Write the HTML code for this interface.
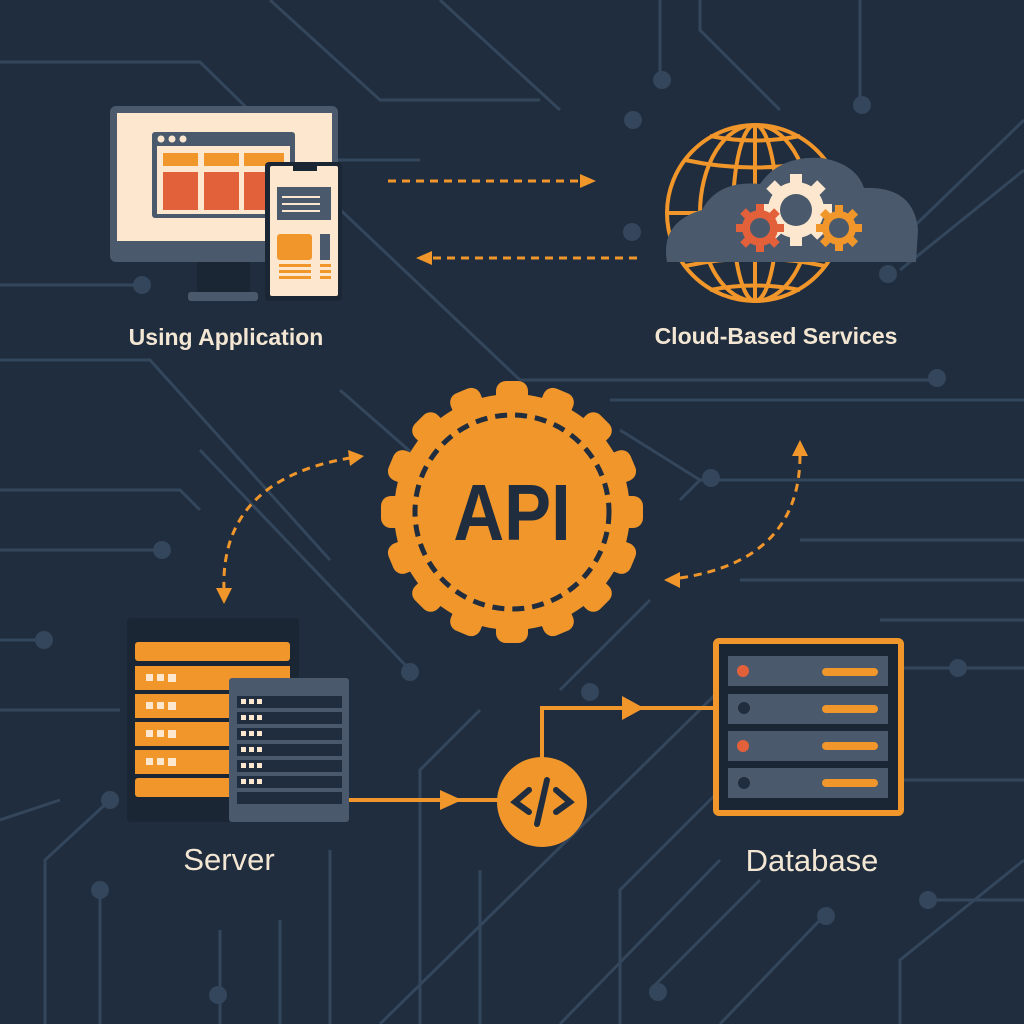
<!DOCTYPE html>
<html><head><style>
html,body{margin:0;padding:0;background:#1f2d3f;}
svg{display:block}
text{font-family:"Liberation Sans","DejaVu Sans",sans-serif;}
</style></head><body>
<svg width="1024" height="1024" viewBox="0 0 1024 1024" xmlns="http://www.w3.org/2000/svg">
<rect width="1024" height="1024" fill="#1f2d3f"/>
<g stroke="#34465b" stroke-width="3" fill="none">
<path d="M0 62 H200 L300 160 H420"/>
<path d="M0 285 H140"/>
<path d="M270 0 L380 100 H540"/>
<path d="M440 0 L560 110"/>
<path d="M660 0 V80"/>
<path d="M700 0 V30 L780 110"/>
<path d="M860 0 V105"/>
<path d="M1024 120 L900 240 H850"/>
<path d="M1024 170 L900 270"/>
<path d="M330 200 L520 380 H935"/>
<path d="M340 390 L420 460"/>
<path d="M0 360 H150 L330 560"/>
<path d="M0 490 H180 L200 510"/>
<path d="M0 550 H160"/>
<path d="M200 450 L410 670"/>
<path d="M610 400 H1024"/>
<path d="M620 430 L700 480 H1024"/>
<path d="M680 500 L700 480"/>
<path d="M800 540 H1024"/>
<path d="M740 580 H1024"/>
<path d="M880 620 L1024 620"/>
<path d="M900 668 H1024"/>
<path d="M900 780 H1024"/>
<path d="M0 640 H40"/>
<path d="M0 710 H120"/>
<path d="M0 820 L60 800"/>
<path d="M45 1024 V860 L110 800"/>
<path d="M100 1024 V890"/>
<path d="M220 1024 V930"/>
<path d="M280 1024 V920"/>
<path d="M330 1024 V850"/>
<path d="M420 1024 V770 L480 710"/>
<path d="M560 690 L650 600"/>
<path d="M380 1024 L720 690"/>
<path d="M560 1024 L720 860"/>
<path d="M620 1024 V890 L720 790"/>
<path d="M650 990 L760 880"/>
<path d="M720 1024 L820 920"/>
<path d="M900 1024 V960 L1024 860"/>
<path d="M930 900 H1024"/>
<path d="M480 1024 V870"/>
</g>
<g fill="#34465b">
<circle cx="142" cy="285" r="9"/><circle cx="633" cy="120" r="9"/><circle cx="662" cy="80" r="9"/><circle cx="862" cy="105" r="9"/>
<circle cx="937" cy="378" r="9"/><circle cx="632" cy="232" r="9"/><circle cx="888" cy="274" r="9"/><circle cx="711" cy="478" r="9"/>
<circle cx="162" cy="550" r="9"/><circle cx="410" cy="672" r="9"/><circle cx="590" cy="692" r="9"/><circle cx="44" cy="640" r="9"/>
<circle cx="110" cy="800" r="9"/><circle cx="100" cy="890" r="9"/><circle cx="958" cy="668" r="9"/><circle cx="928" cy="900" r="9"/>
<circle cx="658" cy="992" r="9"/><circle cx="826" cy="916" r="9"/><circle cx="218" cy="995" r="9"/>
</g>

<!-- Monitor -->
<rect x="110" y="106" width="228" height="156" rx="6" fill="#4a5a6c"/>
<rect x="117" y="113" width="215" height="128" fill="#fde8cf"/>
<rect x="197" y="262" width="53" height="30" fill="#1a2634"/>
<rect x="188" y="292" width="70" height="9" rx="3" fill="#4a5a6c"/>
<rect x="152" y="132" width="143" height="86" rx="3" fill="#4a5a6c"/>
<rect x="157" y="146" width="133" height="68" fill="#fde8cf"/>
<g fill="#fde8cf"><circle cx="161" cy="139" r="3.5"/><circle cx="172" cy="139" r="3.5"/><circle cx="183" cy="139" r="3.5"/></g>
<g fill="#f0962a"><rect x="163" y="153" width="35" height="13"/><rect x="204" y="153" width="35" height="13"/><rect x="244" y="153" width="40" height="13"/></g>
<g fill="#e2603a"><rect x="163" y="172" width="35" height="38"/><rect x="204" y="172" width="35" height="38"/><rect x="244" y="172" width="40" height="38"/></g>
<!-- Phone -->
<rect x="265" y="162" width="77" height="139" rx="4" fill="#1a2634"/>
<rect x="270" y="166" width="68" height="130" rx="2" fill="#fde8cf"/>
<rect x="293" y="166" width="24" height="5" fill="#1a2634"/>
<rect x="277" y="187" width="54" height="33" fill="#4a5a6c"/>
<g stroke="#fde8cf" stroke-width="2"><line x1="282" y1="197" x2="320" y2="197"/><line x1="282" y1="204" x2="320" y2="204"/><line x1="282" y1="211" x2="320" y2="211"/></g>
<rect x="277" y="234" width="35" height="26" rx="3" fill="#f0962a"/>
<rect x="320" y="234" width="10" height="26" fill="#4a5a6c"/>
<g fill="#f0962a"><rect x="279" y="264" width="32" height="3"/><rect x="279" y="270" width="32" height="3"/><rect x="279" y="276" width="32" height="3"/><rect x="320" y="264" width="11" height="3"/><rect x="320" y="270" width="11" height="3"/><rect x="320" y="276" width="11" height="3"/></g>
<text x="226" y="345" text-anchor="middle" font-size="23" font-weight="bold" fill="#f3e6d3">Using Application</text>

<!-- Globe & cloud -->
<g stroke="#f0962a" stroke-width="4" fill="none">
<circle cx="755" cy="213" r="88"/>
<ellipse cx="755" cy="213" rx="55" ry="88"/>
<ellipse cx="755" cy="213" rx="22" ry="88"/>
<line x1="755" y1="125" x2="755" y2="301"/>
<line x1="667" y1="213" x2="843" y2="213"/>
<path d="M685 160 Q755 175 825 160"/><path d="M685 266 Q755 251 825 266"/>
<path d="M710 136 Q755 145 800 136"/><path d="M710 290 Q755 281 800 290"/>
</g>
<path d="M667 262 Q660 222 702 210 Q718 180 760 184 Q780 155 822 158 Q856 164 864 188 Q914 186 918 230 L916 262 Z" fill="#4a5a6c"/>
<g transform="translate(796,210)" fill="#fde8cf">
<circle r="28"/>
<g><rect x="-6" y="-36" width="12" height="72"/><rect x="-6" y="-36" width="12" height="72" transform="rotate(45)"/><rect x="-6" y="-36" width="12" height="72" transform="rotate(90)"/><rect x="-6" y="-36" width="12" height="72" transform="rotate(135)"/></g>
<circle r="16" fill="#4a5a6c"/>
</g>
<g transform="translate(760,228)" fill="#e2603a">
<circle r="18"/>
<rect x="-4" y="-24" width="8" height="48"/><rect x="-4" y="-24" width="8" height="48" transform="rotate(45)"/><rect x="-4" y="-24" width="8" height="48" transform="rotate(90)"/><rect x="-4" y="-24" width="8" height="48" transform="rotate(135)"/>
<circle r="10" fill="#4a5a6c"/>
</g>
<g transform="translate(839,228)" fill="#f0962a">
<circle r="17"/>
<rect x="-4" y="-23" width="8" height="46"/><rect x="-4" y="-23" width="8" height="46" transform="rotate(45)"/><rect x="-4" y="-23" width="8" height="46" transform="rotate(90)"/><rect x="-4" y="-23" width="8" height="46" transform="rotate(135)"/>
<circle r="10" fill="#4a5a6c"/>
</g>
<text x="776" y="344" text-anchor="middle" font-size="23" font-weight="bold" fill="#f3e6d3">Cloud-Based Services</text>

<!-- dashed arrows -->
<g stroke="#f0962a" stroke-width="3" stroke-dasharray="8 6" fill="none">
<line x1="388" y1="181" x2="582" y2="181"/>
<line x1="637" y1="258" x2="432" y2="258"/>
<path d="M224 590 Q220 480 350 458"/>
<path d="M680 578 Q800 560 800 455"/>
</g>
<g fill="#f0962a">
<polygon points="596,181 580,174 580,188"/>
<polygon points="416,258 432,251 432,265"/>
<polygon points="364,456 348,450 350,466"/>
<polygon points="224,604 216,588 232,588"/>
<polygon points="800,440 792,456 808,456"/>
<polygon points="664,580 680,572 680,588"/>
</g>

<!-- API gear -->
<g transform="translate(512,512)" fill="#f0962a">
<circle r="118"/>
<rect x="-16" y="-131" width="32" height="40" rx="10"/>
<rect x="-16" y="-131" width="32" height="40" rx="10" transform="rotate(22.5)"/>
<rect x="-16" y="-131" width="32" height="40" rx="10" transform="rotate(45)"/>
<rect x="-16" y="-131" width="32" height="40" rx="10" transform="rotate(67.5)"/>
<rect x="-16" y="-131" width="32" height="40" rx="10" transform="rotate(90)"/>
<rect x="-16" y="-131" width="32" height="40" rx="10" transform="rotate(112.5)"/>
<rect x="-16" y="-131" width="32" height="40" rx="10" transform="rotate(135)"/>
<rect x="-16" y="-131" width="32" height="40" rx="10" transform="rotate(157.5)"/>
<rect x="-16" y="-131" width="32" height="40" rx="10" transform="rotate(180)"/>
<rect x="-16" y="-131" width="32" height="40" rx="10" transform="rotate(202.5)"/>
<rect x="-16" y="-131" width="32" height="40" rx="10" transform="rotate(225)"/>
<rect x="-16" y="-131" width="32" height="40" rx="10" transform="rotate(247.5)"/>
<rect x="-16" y="-131" width="32" height="40" rx="10" transform="rotate(270)"/>
<rect x="-16" y="-131" width="32" height="40" rx="10" transform="rotate(292.5)"/>
<rect x="-16" y="-131" width="32" height="40" rx="10" transform="rotate(315)"/>
<rect x="-16" y="-131" width="32" height="40" rx="10" transform="rotate(337.5)"/>
<circle r="97" fill="none" stroke="#1f2d3f" stroke-width="5" stroke-dasharray="12 8"/>
</g>
<text x="0" y="0" transform="translate(512,540) scale(0.88,1)" text-anchor="middle" font-size="80" font-weight="bold" fill="#1f2d3f">API</text>

<!-- Server -->
<rect x="127" y="618" width="172" height="204" rx="4" fill="#1a2634"/>
<g fill="#f0962a">
<rect x="135" y="642" width="155" height="19" rx="3"/>
<rect x="135" y="666" width="155" height="24"/>
<rect x="135" y="694" width="155" height="24"/>
<rect x="135" y="722" width="155" height="24"/>
<rect x="135" y="750" width="155" height="24"/>
<rect x="135" y="778" width="155" height="19" rx="3"/>
</g>
<g fill="#fde8cf">
<rect x="146" y="674" width="7" height="7"/><rect x="157" y="674" width="7" height="7"/><rect x="168" y="674" width="8" height="8"/>
<rect x="146" y="702" width="7" height="7"/><rect x="157" y="702" width="7" height="7"/><rect x="168" y="702" width="8" height="8"/>
<rect x="146" y="730" width="7" height="7"/><rect x="157" y="730" width="7" height="7"/><rect x="168" y="730" width="8" height="8"/>
<rect x="146" y="758" width="7" height="7"/><rect x="157" y="758" width="7" height="7"/><rect x="168" y="758" width="8" height="8"/>
</g>
<rect x="229" y="678" width="120" height="144" rx="3" fill="#4a5a6c"/>
<g fill="#1f2d3f">
<rect x="237" y="696" width="105" height="12"/><rect x="237" y="712" width="105" height="12"/><rect x="237" y="728" width="105" height="12"/>
<rect x="237" y="744" width="105" height="12"/><rect x="237" y="760" width="105" height="12"/><rect x="237" y="776" width="105" height="12"/><rect x="237" y="792" width="105" height="12"/>
</g>
<g fill="#fde8cf">
<rect x="241" y="699" width="5" height="5"/><rect x="249" y="699" width="5" height="5"/><rect x="257" y="699" width="5" height="5"/>
<rect x="241" y="715" width="5" height="5"/><rect x="249" y="715" width="5" height="5"/><rect x="257" y="715" width="5" height="5"/>
<rect x="241" y="731" width="5" height="5"/><rect x="249" y="731" width="5" height="5"/><rect x="257" y="731" width="5" height="5"/>
<rect x="241" y="747" width="5" height="5"/><rect x="249" y="747" width="5" height="5"/><rect x="257" y="747" width="5" height="5"/>
<rect x="241" y="763" width="5" height="5"/><rect x="249" y="763" width="5" height="5"/><rect x="257" y="763" width="5" height="5"/>
<rect x="241" y="779" width="5" height="5"/><rect x="249" y="779" width="5" height="5"/><rect x="257" y="779" width="5" height="5"/>
</g>
<text x="229" y="870" text-anchor="middle" font-size="31" fill="#f3e6d3">Server</text>

<!-- connectors -->
<g stroke="#f0962a" stroke-width="4" fill="none">
<line x1="349" y1="800" x2="500" y2="800"/>
<path d="M542 760 V708 H716"/>
</g>
<g fill="#f0962a">
<polygon points="462,800 440,790 440,810"/>
<polygon points="644,708 622,696 622,720"/>
<circle cx="542" cy="802" r="45"/>
</g>
<g stroke="#1f2d3f" stroke-width="6" fill="none" stroke-linecap="round">
<polyline points="529,790 515,802 529,812"/>
<polyline points="556,790 570,802 556,812"/>
<line x1="547" y1="780" x2="537" y2="824"/>
</g>

<!-- Database -->
<rect x="716" y="641" width="185" height="172" rx="3" fill="#1a2634" stroke="#f0962a" stroke-width="6"/>
<g fill="#4a5a6c">
<rect x="728" y="656" width="160" height="30"/><rect x="728" y="694" width="160" height="30"/>
<rect x="728" y="731" width="160" height="30"/><rect x="728" y="768" width="160" height="30"/>
</g>
<g fill="#f0962a">
<rect x="822" y="668" width="56" height="8" rx="4"/><rect x="822" y="705" width="56" height="8" rx="4"/>
<rect x="822" y="742" width="56" height="8" rx="4"/><rect x="822" y="779" width="56" height="8" rx="4"/>
</g>
<circle cx="743" cy="671" r="6" fill="#e2603a"/><circle cx="744" cy="708" r="6" fill="#1f2d3f"/>
<circle cx="743" cy="746" r="6" fill="#e2603a"/><circle cx="744" cy="783" r="6" fill="#1f2d3f"/>
<text x="812" y="871" text-anchor="middle" font-size="31" fill="#f3e6d3">Database</text>
</svg>
</body></html>
